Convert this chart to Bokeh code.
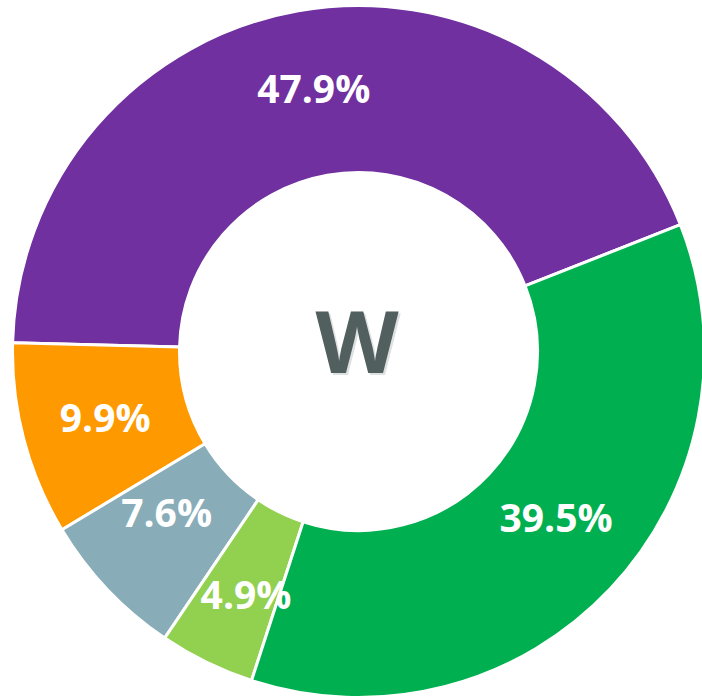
import numpy as np
from bokeh.plotting import figure
from bokeh.models import ColumnDataSource, Range1d
from bokeh.embed import file_html
from bokeh.resources import INLINE
from bokeh.core.properties import value

# ---- data ----
segments = ["Purple", "Orange", "Grey", "Light green", "Green"]
values = [47.9, 9.9, 7.6, 4.9, 39.5]
labels = ["47.9%", "9.9%", "7.6%", "4.9%", "39.5%"]
colors = ["#7030A0", "#FF9900", "#88ACB8", "#92D050", "#00B050"]
center_label = "W"

# ---- layout / style ----
W, H = 702, 698
cx, cy = 358, H - 351
r_in, r_out = 179, 346
r_lab = 263
start_deg = 21.5
# small screen-pixel nudges of each label (right, down)
nudge_x = [1, 1, -1, 3, 6]
nudge_y = [-5, -2, -21, 6, -15]

vals = np.array(values, dtype=float)
frac = vals / vals.sum()
ends = np.deg2rad(start_deg) + np.cumsum(frac) * 2 * np.pi
starts = ends - frac * 2 * np.pi
mids = (starts + ends) / 2

src = ColumnDataSource(dict(
    seg=segments, start=starts, end=ends, color=colors, label=labels,
    lx=cx + r_lab * np.cos(mids) + np.array(nudge_x),
    ly=cy + r_lab * np.sin(mids) - np.array(nudge_y),
))

p = figure(width=W, height=H, x_range=Range1d(0, W), y_range=Range1d(0, H),
           output_backend="svg", toolbar_location=None, min_border=0)
p.axis.visible = False
p.grid.visible = False
p.outline_line_color = None
p.background_fill_color = "white"
p.border_fill_color = "white"

p.annular_wedge(x=cx, y=cy, inner_radius=r_in, outer_radius=r_out,
                start_angle="start", end_angle="end", fill_color="color",
                line_color="white", line_width=3, source=src)

p.text(x="lx", y="ly", text="label", text_color="white",
       text_font=value("Open Sans"), text_font_style="bold",
       text_font_size="39px", text_align="center", text_baseline="middle",
       source=src)

# centre letter with soft shadow
wx, wy = cx - 1.5, cy + 12.5
p.text(x=[wx + 2], y=[wy - 2], text=[center_label], text_color="#a0a8a8",
       text_alpha=0.35, text_font=value("Open Sans"), text_font_style="bold",
       text_font_size="86px", text_align="center", text_baseline="middle")
p.text(x=[wx], y=[wy], text=[center_label], text_color="#525F5F",
       text_font=value("Open Sans"), text_font_style="bold",
       text_font_size="86px", text_align="center", text_baseline="middle")

open("out.html", "w").write(file_html(p, INLINE))
